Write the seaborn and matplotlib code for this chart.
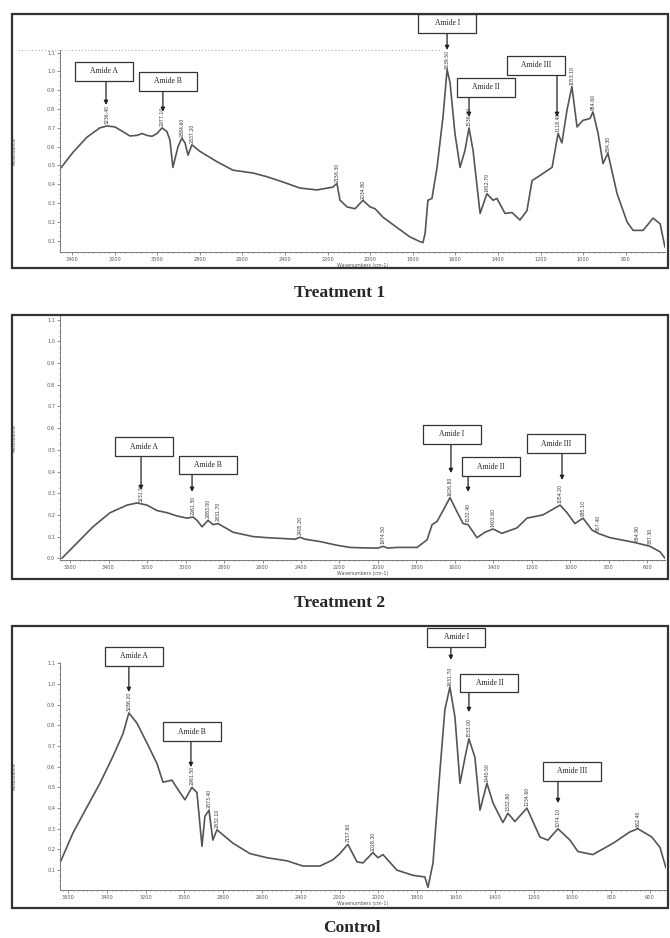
import numpy as np
import pandas as pd
import seaborn as sns
import matplotlib.pyplot as plt
import matplotlib.transforms as mtransforms
from matplotlib.patches import Rectangle
from matplotlib.ticker import MultipleLocator

# ---- spectra ----
# Treatment 1
t1_wavenumber = [3452, 3395, 3330, 3269, 3236, 3198, 3161, 3128, 3095, 3071, 3048, 3024, 3001, 2977,
                 2954, 2940, 2926, 2902, 2884, 2869, 2855, 2837, 2799, 2719, 2644, 2550, 2484, 2409,
                 2330, 2250, 2175, 2156, 2142, 2109, 2071, 2034, 2001, 1977, 1940, 1874, 1813, 1766,
                 1752, 1742, 1729, 1710, 1686, 1658, 1639, 1625, 1602, 1578, 1555, 1536, 1517, 1484,
                 1452, 1423, 1405, 1367, 1334, 1297, 1264, 1240, 1212, 1146, 1118, 1100, 1076, 1053,
                 1029, 1001, 968, 954, 930, 907, 884, 841, 794, 766, 719, 672, 639, 616]
t1_absorbance = [0.487, 0.57, 0.65, 0.70, 0.71, 0.705, 0.68, 0.657, 0.66, 0.67, 0.66, 0.655, 0.67, 0.70,
                 0.68, 0.635, 0.49, 0.60, 0.645, 0.62, 0.555, 0.61, 0.575, 0.52, 0.475, 0.46, 0.44, 0.412,
                 0.38, 0.37, 0.385, 0.405, 0.316, 0.28, 0.27, 0.315, 0.28, 0.27, 0.225, 0.17, 0.12, 0.095,
                 0.09, 0.14, 0.315, 0.325, 0.49, 0.76, 1.01, 0.94, 0.67, 0.49, 0.58, 0.70, 0.58, 0.245,
                 0.35, 0.315, 0.325, 0.245, 0.25, 0.21, 0.26, 0.42, 0.44, 0.49, 0.67, 0.62, 0.795, 0.92,
                 0.705, 0.74, 0.75, 0.785, 0.67, 0.51, 0.565, 0.35, 0.20, 0.155, 0.155, 0.22, 0.19, 0.065]
t1_peaks = [3236.4, 2977.1, 2884.6, 2837.2, 2156.3, 2034.8, 1639.5, 1536.2, 1452.7, 1118.4, 1053.1,
            954.6, 884.3]

# Treatment 2
t2_wavenumber = [3642, 3564, 3481, 3392, 3304, 3252, 3200, 3148, 3096, 3044, 2992, 2961, 2940, 2914,
                 2883, 2857, 2831, 2753, 2649, 2577, 2430, 2405, 2380, 2301, 2213, 2145, 2078, 2000,
                 1974, 1950, 1901, 1797, 1745, 1719, 1693, 1662, 1626, 1590, 1558, 1532, 1486, 1444,
                 1403, 1356, 1278, 1226, 1143, 1054, 1018, 977, 935, 888, 857, 795, 691, 654, 587,
                 535, 509]
t2_absorbance = [0.0, 0.07, 0.145, 0.21, 0.245, 0.255, 0.245, 0.22, 0.21, 0.195, 0.185, 0.19, 0.175, 0.145,
                 0.175, 0.155, 0.16, 0.12, 0.10, 0.095, 0.088, 0.097, 0.088, 0.077, 0.06, 0.05, 0.048, 0.047,
                 0.055, 0.047, 0.05, 0.05, 0.085, 0.155, 0.17, 0.22, 0.28, 0.215, 0.16, 0.155, 0.095, 0.12,
                 0.135, 0.115, 0.14, 0.185, 0.2, 0.245, 0.21, 0.16, 0.185, 0.13, 0.115, 0.095, 0.077, 0.07,
                 0.055, 0.03, 0.0]
t2_peaks = [3231.5, 2961.3, 2883.0, 2831.7, 2405.2, 1974.5, 1626.8, 1532.4, 1403.6, 1054.2, 935.1,
            857.4, 654.9, 587.3]

# Control
c_wavenumber = [3641, 3574, 3502, 3435, 3368, 3316, 3286, 3244, 3193, 3141, 3110, 3064, 3033, 2997,
                2961, 2935, 2909, 2894, 2873, 2853, 2832, 2749, 2662, 2574, 2471, 2389, 2301, 2234,
                2198, 2157, 2110, 2079, 2028, 2002, 1976, 1904, 1822, 1760, 1744, 1718, 1682, 1657,
                1631, 1605, 1579, 1553, 1533, 1502, 1476, 1440, 1409, 1358, 1332, 1296, 1234, 1167,
                1126, 1074, 1012, 971, 894, 790, 703, 662, 590, 548, 517]
c_absorbance = [0.135, 0.28, 0.405, 0.52, 0.65, 0.76, 0.86, 0.81, 0.715, 0.615, 0.525, 0.535, 0.49, 0.44,
                0.50, 0.475, 0.215, 0.36, 0.39, 0.245, 0.295, 0.23, 0.18, 0.16, 0.145, 0.12, 0.12, 0.15,
                0.18, 0.225, 0.14, 0.135, 0.185, 0.16, 0.175, 0.10, 0.075, 0.067, 0.017, 0.135, 0.585, 0.875,
                0.985, 0.84, 0.52, 0.645, 0.735, 0.645, 0.39, 0.52, 0.425, 0.33, 0.375, 0.335, 0.40, 0.26,
                0.245, 0.30, 0.245, 0.19, 0.175, 0.23, 0.285, 0.30, 0.26, 0.21, 0.11]
c_peaks = [3286.2, 2961.5, 2873.4, 2832.1, 2157.6, 2028.3, 1631.7, 1533.0, 1440.5, 1332.8, 1234.6,
           1074.1, 662.4]

amide_names = ['Amide A', 'Amide B', 'Amide I', 'Amide II', 'Amide III']
titles = ['Treatment 1', 'Treatment 2', 'Control']

# ---- layout (figure pixels / data coords for call-outs) ----
W, H = 670, 938
# box centre x, box centre y, arrow x, arrow start y, arrow tip y
t1_callouts = [(3250, 1.0, 3240, 0.955, 0.822), (2949, 0.947, 2973, 0.90, 0.785),
               (1637, 1.255, 1639, 1.21, 1.114), (1456, 0.915, 1536, 0.864, 0.758),
               (1222, 1.032, 1123, 0.987, 0.758)]
t2_callouts = [(3218, 0.515, 3231, 0.471, 0.315), (2883, 0.43, 2966, 0.388, 0.306),
               (1618, 0.571, 1621, 0.527, 0.393), (1413, 0.423, 1532, 0.379, 0.306),
               (1075, 0.529, 1044, 0.485, 0.361)]
c_callouts = [(3262, 1.133, 3286, 1.087, 0.961), (2963, 0.77, 2966, 0.724, 0.598),
              (1597, 1.225, 1626, 1.184, 1.116), (1427, 1.005, 1533, 0.956, 0.864),
              (1002, 0.577, 1074, 0.529, 0.424)]

panels = [
    dict(wn=t1_wavenumber, ab=t1_absorbance, peaks=t1_peaks, callouts=t1_callouts,
         px=(60, 50, 665, 252), xlim=(3456, 616), ylim=(0.04, 1.114),
         xticks=np.arange(3400, 799, -200), yticks=np.arange(0.1, 1.15, 0.1),
         frame=(12, 14, 668, 268), title_xy=(340, 293), dotted=True),
    dict(wn=t2_wavenumber, ab=t2_absorbance, peaks=t2_peaks, callouts=t2_callouts,
         px=(60, 316, 665, 560), xlim=(3652, 509), ylim=(-0.008, 1.117),
         xticks=np.arange(3600, 599, -200), yticks=np.arange(0.0, 1.15, 0.1),
         frame=(12, 315, 668, 579), title_xy=(340, 603), dotted=False),
    dict(wn=c_wavenumber, ab=c_absorbance, peaks=c_peaks, callouts=c_callouts,
         px=(60, 662, 666, 890), xlim=(3641, 517), ylim=(0.004, 1.106),
         xticks=np.arange(3600, 599, -200), yticks=np.arange(0.1, 1.15, 0.1),
         frame=(12, 626, 668, 908), title_xy=(352, 928), dotted=False),
]

sns.set_theme(style='ticks')
plt.rcParams['font.family'] = ['DejaVu Sans']

fig = plt.figure(figsize=(W / 100, H / 100), dpi=100)
line_color = '#555555'
axis_color = '#7a7a7a'

for p, title in zip(panels, titles):
    x0, y0, x1, y1 = p['px']
    ax = fig.add_axes([x0 / W, 1 - y1 / H, (x1 - x0) / W, (y1 - y0) / H])

    df = pd.DataFrame({'Wavenumber': p['wn'], 'Absorbance': p['ab']})
    sns.lineplot(data=df, x='Wavenumber', y='Absorbance', ax=ax, color=line_color,
                 lw=1.2, estimator=None, sort=False)

    ax.set_xlim(*p['xlim'])
    ax.set_ylim(*p['ylim'])
    ax.set_xticks(p['xticks'])
    ax.set_xticklabels([f'{int(t)}' for t in p['xticks']])
    ax.set_yticks(p['yticks'])
    ax.set_yticklabels([f'{t:.1f}' for t in p['yticks']])
    ax.xaxis.set_minor_locator(MultipleLocator(25))
    ax.yaxis.set_minor_locator(MultipleLocator(0.025))
    ax.tick_params(which='major', length=2, width=0.6, pad=1.5, labelsize=3.6,
                   colors=axis_color, labelcolor='#555555')
    ax.tick_params(which='minor', length=1, width=0.5, colors=axis_color)
    for side in ['top', 'right']:
        ax.spines[side].set_visible(False)
    for side in ['left', 'bottom']:
        ax.spines[side].set_color(axis_color)
        ax.spines[side].set_linewidth(0.7)
        ax.spines[side].set_linestyle((0, (4, 1)))
    ax.set_facecolor('none')
    ax.set_xlabel('Wavenumbers (cm-1)', fontsize=3.4, color='#555555', labelpad=1)
    ax.set_ylabel('Absorbance', fontsize=3.4, color='#555555')
    ax.yaxis.set_label_coords(-0.071, 0.5)

    if p['dotted']:
        ax.axhline(p['ylim'][1] - 0.002, xmin=-0.07, xmax=0.63, color='#aaaaaa',
                   lw=0.8, ls=(0, (1, 2)), clip_on=False)

    # peak position labels
    wn_rev = np.array(p['wn'][::-1], dtype=float)
    ab_rev = np.array(p['ab'][::-1], dtype=float)
    for pk in p['peaks']:
        yv = np.interp(pk, wn_rev, ab_rev)
        ax.text(pk, yv + 0.01, f'{pk:.2f}', rotation=90, fontsize=3.3, color='#333333',
                ha='center', va='bottom', clip_on=False)

    # amide call-outs
    for name, (bx, by, axx, ay0, ay1) in zip(amide_names, p['callouts']):
        trans = fig.dpi_scale_trans + mtransforms.ScaledTranslation(bx, by, ax.transData)
        box = Rectangle((-0.29, -0.092), 0.58, 0.184, transform=trans, facecolor='white',
                        edgecolor='#333333', lw=0.9, clip_on=False, zorder=5)
        ax.add_artist(box)
        ax.text(bx, by, name, fontsize=5.5, family='Liberation Serif', color='#222222',
                ha='center', va='center', zorder=6, clip_on=False)
        ax.annotate('', xy=(axx, ay1), xytext=(axx, ay0), annotation_clip=False,
                    arrowprops=dict(arrowstyle='-|>', color='#222222', lw=0.9,
                                    mutation_scale=6, shrinkA=0, shrinkB=0))

    # outer frame and caption
    fx0, fy0, fx1, fy1 = p['frame']
    fig.add_artist(Rectangle((fx0 / W, 1 - fy1 / H), (fx1 - fx0) / W, (fy1 - fy0) / H,
                             transform=fig.transFigure, fill=False, edgecolor='#333333', lw=1.6))
    tx, ty = p['title_xy']
    fig.text(tx / W, 1 - ty / H, title, fontsize=12.5, fontweight='bold',
             family='Liberation Serif', ha='center', va='center')

fig.savefig('out.png', dpi=100)
